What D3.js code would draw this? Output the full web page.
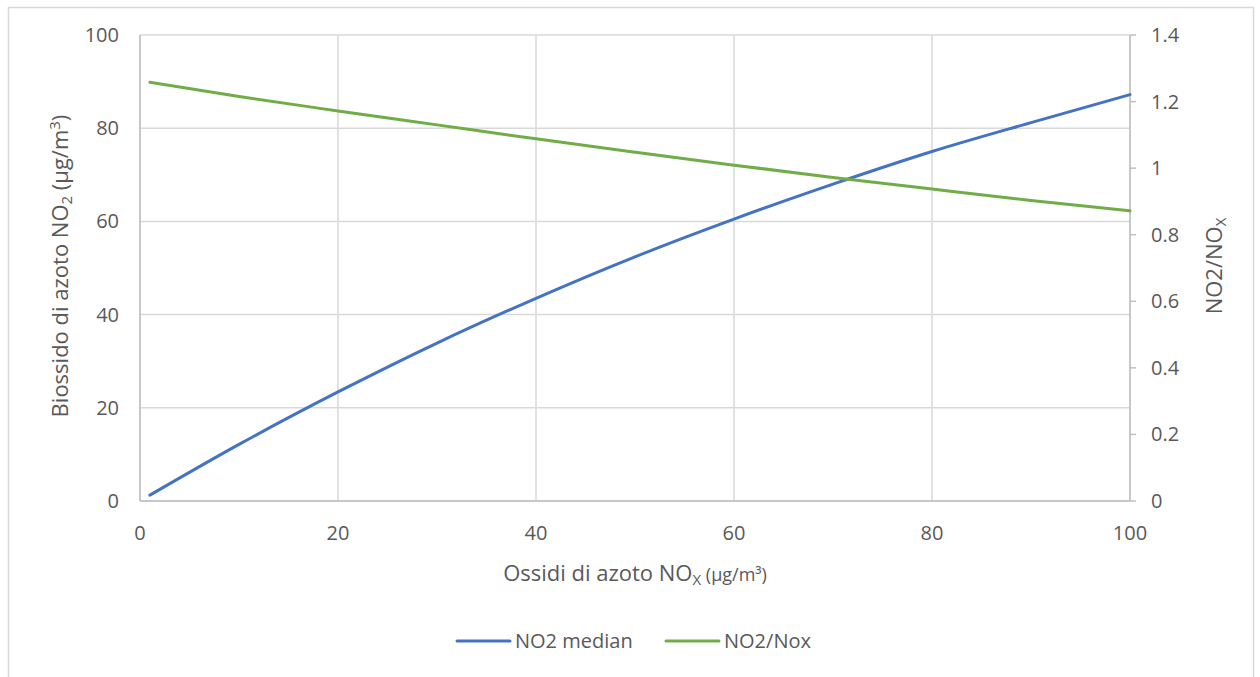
<!DOCTYPE html>
<html><head><meta charset="utf-8">
<script src="https://cdn.jsdelivr.net/npm/d3@7/dist/d3.min.js"></script>
<style>
body{margin:0;background:#fff;}
text{font-family:"Open Sans","Noto Sans",sans-serif;fill:#595959;}
</style></head>
<body><svg id="c" width="1260" height="677"></svg>
<script>
const noxValues = [1, 10, 20, 30, 40, 50, 60, 70, 80, 90, 100];
const no2Median = [1.26, 12.15, 23.4, 33.9, 43.5, 52.4, 60.5, 68.0, 75.0, 81.2, 87.2];
const no2NoxRatio = [1.258, 1.215, 1.172, 1.130, 1.088, 1.048, 1.009, 0.972, 0.937, 0.903, 0.872];
const xTicks = [0, 20, 40, 60, 80, 100];
const yLeftTicks = [0, 20, 40, 60, 80, 100];
const yRightTicks = [0, 0.2, 0.4, 0.6, 0.8, 1, 1.2, 1.4];
const seriesNames = ["NO2 median", "NO2/Nox"];
const colors = ["#4472C4", "#70AD47"];

const svg = d3.select("#c");
const L = 140, R = 1130, T = 35, B = 501;
const x = d3.scaleLinear().domain([0, 100]).range([L, R]);
const yL = d3.scaleLinear().domain([0, 100]).range([B, T]);
const yR = d3.scaleLinear().domain([0, 1.4]).range([B, T]);

// outer border
svg.append("rect").attr("x", 8.5).attr("y", 7.5).attr("width", 1245).attr("height", 700)
  .attr("fill", "none").attr("stroke", "#d9d9d9").attr("stroke-width", 1.5);

const grid = svg.append("g").attr("stroke", "#d9d9d9").attr("stroke-width", 1.5);
yLeftTicks.forEach(t => grid.append("line").attr("x1", L).attr("x2", R).attr("y1", yL(t)).attr("y2", yL(t)));
xTicks.forEach(t => grid.append("line").attr("x1", x(t)).attr("x2", x(t)).attr("y1", T).attr("y2", B));

// axis lines
const ax = svg.append("g").attr("stroke", "#bfbfbf").attr("stroke-width", 1.5);
ax.append("line").attr("x1", L).attr("x2", L).attr("y1", T).attr("y2", B);
ax.append("line").attr("x1", L).attr("x2", R).attr("y1", B).attr("y2", B);
ax.append("line").attr("x1", R).attr("x2", R).attr("y1", T).attr("y2", B);
yRightTicks.forEach(t => ax.append("line").attr("x1", R).attr("x2", R + 6).attr("y1", yR(t)).attr("y2", yR(t)));

// tick labels
const fs = 20;
xTicks.forEach(t => svg.append("text").attr("x", x(t)).attr("y", 540).attr("text-anchor", "middle")
  .attr("font-size", fs).text(t));
yLeftTicks.forEach(t => svg.append("text").attr("x", 119).attr("y", yL(t) + 7).attr("text-anchor", "end")
  .attr("font-size", fs).text(t));
yRightTicks.forEach(t => svg.append("text").attr("x", 1151).attr("y", yR(t) + 7).attr("text-anchor", "start")
  .attr("font-size", fs).text(d3.format("~g")(t)));

// axis titles
const xt = svg.append("text").attr("x", 635).attr("y", 581).attr("text-anchor", "middle").attr("font-size", 22);
xt.append("tspan").text("Ossidi di azoto NO");
xt.append("tspan").attr("font-size", 15).attr("dy", 4).text("X");
xt.append("tspan").attr("font-size", 18).attr("dy", -4).text(" (μg/m³)");

const yt = svg.append("text").attr("transform", "translate(68,266) rotate(-90)").attr("text-anchor", "middle").attr("font-size", 22);
yt.append("tspan").text("Biossido di azoto NO");
yt.append("tspan").attr("font-size", 15).attr("dy", 4).text("2");
yt.append("tspan").attr("dy", -4).text(" (μg/m");
yt.append("tspan").attr("font-size", 15).attr("dy", -8).text("3");
yt.append("tspan").attr("dy", 8).text(")");

const rt = svg.append("text").attr("transform", "translate(1222,266) rotate(-90)").attr("text-anchor", "middle").attr("font-size", 22);
rt.append("tspan").text("NO2/NO");
rt.append("tspan").attr("font-size", 15).attr("dy", 4).text("X");

// lines
const lineL = d3.line().x((d, i) => x(noxValues[i])).y(d => yL(d)).curve(d3.curveMonotoneX);
const lineR = d3.line().x((d, i) => x(noxValues[i])).y(d => yR(d)).curve(d3.curveMonotoneX);
svg.append("path").attr("d", lineL(no2Median)).attr("fill", "none").attr("stroke", colors[0])
  .attr("stroke-width", 3).attr("stroke-linecap", "round");
svg.append("path").attr("d", lineR(no2NoxRatio)).attr("fill", "none").attr("stroke", colors[1])
  .attr("stroke-width", 3).attr("stroke-linecap", "round");

// legend
const legX = [457, 666];
seriesNames.forEach((n, i) => {
  svg.append("line").attr("x1", legX[i]).attr("x2", legX[i] + 53).attr("y1", 641).attr("y2", 641)
    .attr("stroke", colors[i]).attr("stroke-width", 3).attr("stroke-linecap", "round");
  svg.append("text").attr("x", legX[i] + 58).attr("y", 648).attr("font-size", 20).text(n);
});
</script></body></html>
